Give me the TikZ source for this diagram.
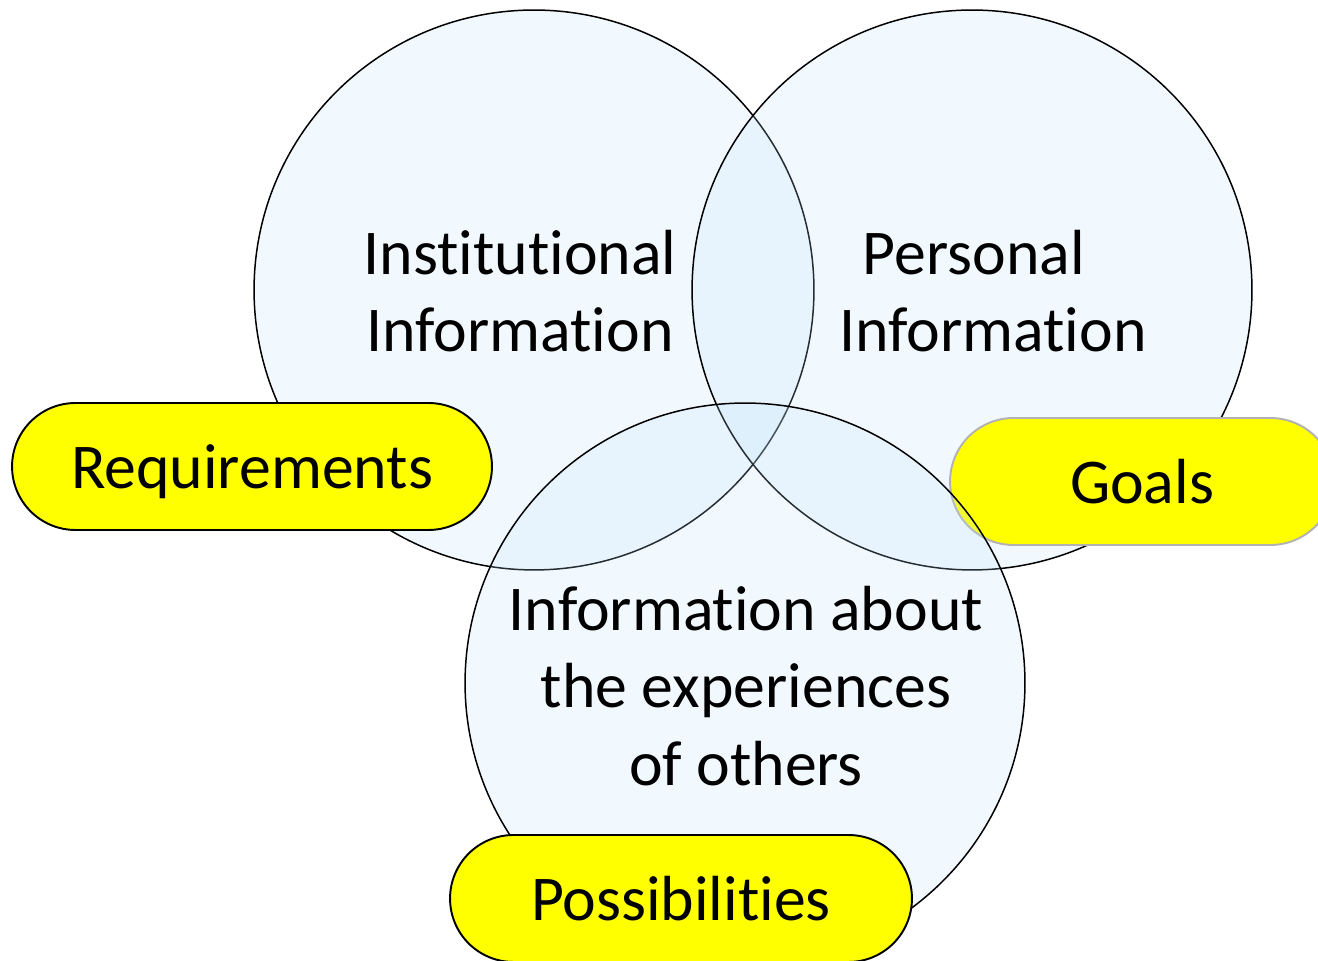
\documentclass[tikz,border=0pt]{standalone}
\usepackage{fontspec}
\setmainfont{Carlito}[Ligatures=NoCommon]
\usetikzlibrary{positioning}
\definecolor{tagyellow}{RGB}{255,255,0}
\definecolor{vennblue}{RGB}{190,225,250}

\begin{document}
\begin{tikzpicture}[x=0.02cm, y=0.02cm]
      \tikzstyle{venn}=[circle, minimum size = 11.2cm, inner sep = 0pt, draw = black, line width = 0.85pt, fill = vennblue, fill opacity = 0.2]
      \tikzstyle{label}=[align = center, font = \fontsize{36.3}{44}\selectfont]
      \tikzstyle{pill}=[rectangle, minimum height = 2.54cm, rounded corners = 1.27cm, text depth = 0pt, fill = tagyellow, draw = black, line width = 1.1pt, font = \fontsize{36.3}{44}\selectfont]

      \useasboundingbox (0,0) rectangle (1318,960);

      % circles
      \node[venn] (inst) at (534,670) {};
      \node[venn] (pers) at (972,670) {};

      % tag under the lower circle
      \node[pill, minimum width = 7.68cm, draw = black!30] (goal) at (1142,478.5) {Goals};

      \node[venn] (othr) at (745,277) {};

      % texts
      \node[label] (tinst) at (520,669) {Institutional\\Information};
      \node[label] (tpers) at (993,669) {Personal\hspace*{0.6em}\\Information};
      \node[label] (tothr) at (746,274) {Information about\\the experiences\\of others};

      % tags
      \node[pill, minimum width = 9.6cm] (req) at (252,493.5) {Requirements};
      \node[pill, minimum width = 9.24cm] (poss) at (681,61.5) {Possibilities};

    \end{tikzpicture}
\end{document}
